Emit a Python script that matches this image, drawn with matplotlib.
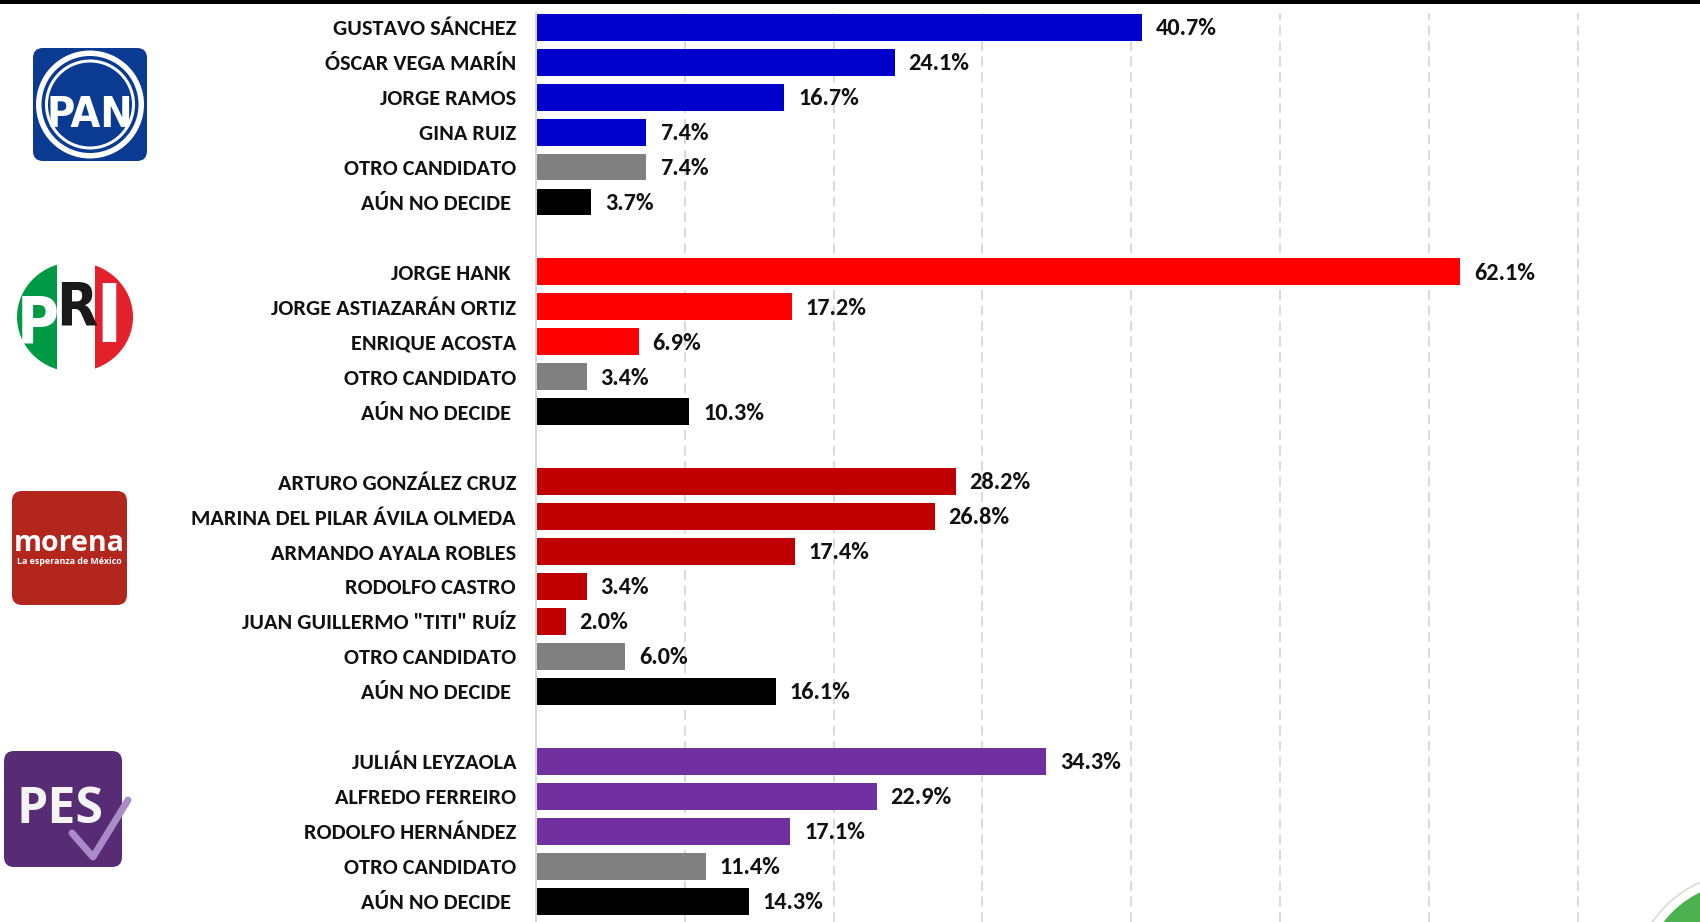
import matplotlib
matplotlib.use("Agg")
import matplotlib.pyplot as plt
from matplotlib import font_manager
from matplotlib.font_manager import FontProperties
from matplotlib.patches import FancyBboxPatch, Circle, Rectangle, Ellipse
from matplotlib.lines import Line2D

# ---------------- data ----------------
pan_names = ["GUSTAVO SÁNCHEZ", "ÓSCAR VEGA MARÍN", "JORGE RAMOS", "GINA RUIZ",
             "OTRO CANDIDATO", "AÚN NO DECIDE "]
pan_values = [40.7, 24.1, 16.7, 7.4, 7.4, 3.7]

pri_names = ["JORGE HANK ", "JORGE ASTIAZARÁN ORTIZ", "ENRIQUE ACOSTA",
             "OTRO CANDIDATO", "AÚN NO DECIDE "]
pri_values = [62.1, 17.2, 6.9, 3.4, 10.3]

morena_names = ["ARTURO GONZÁLEZ CRUZ", "MARINA DEL PILAR ÁVILA OLMEDA",
                "ARMANDO AYALA ROBLES", "RODOLFO CASTRO", 'JUAN GUILLERMO "TITI" RUÍZ',
                "OTRO CANDIDATO", "AÚN NO DECIDE "]
morena_values = [28.2, 26.8, 17.4, 3.4, 2.0, 6.0, 16.1]

pes_names = ["JULIÁN LEYZAOLA", "ALFREDO FERREIRO", "RODOLFO HERNÁNDEZ",
             "OTRO CANDIDATO", "AÚN NO DECIDE "]
pes_values = [34.3, 22.9, 17.1, 11.4, 14.3]

party_colors = {"PAN": "#0000CC", "PRI": "#FF0000", "MORENA": "#C00000", "PES": "#7030A0"}
other_color = "#808080"
undecided_color = "#000000"

# ---------------- fonts ----------------
avail = {f.name for f in font_manager.fontManager.ttflist}
def pick(*names):
    for n in names:
        if n in avail:
            return n
    return "DejaVu Sans"

LABEL_FONT = pick("Carlito", "Lato", "Open Sans")
LOGO_FONT = pick("Open Sans", "Lato")

def narrow_props(size):
    # look for a condensed / narrow bold face among installed fonts
    cands = []
    for f in font_manager.fontManager.ttflist:
        fn = f.fname.lower()
        if ("narrow" in fn or "condensed" in fn) and "bold" in fn and "italic" not in fn \
                and "oblique" not in fn:
            cands.append(f.fname)
    if cands:
        cands.sort(key=lambda s: (0 if "liberation" in s.lower() else 1, s))
        return FontProperties(fname=cands[0], size=size)
    return FontProperties(family=pick("Liberation Sans", "DejaVu Sans"),
                          weight="bold", size=size)

# ---------------- build rows ----------------
groups = [("PAN", pan_names, pan_values), ("PRI", pri_names, pri_values),
          ("MORENA", morena_names, morena_values), ("PES", pes_names, pes_values)]
rows, vals, cols, labels = [], [], [], []
r = 0
for gi, (party, names, values) in enumerate(groups):
    for n, v in zip(names, values):
        rows.append(r)
        vals.append(v)
        labels.append(n)
        if n.startswith("OTRO"):
            cols.append(other_color)
        elif n.startswith("AÚN"):
            cols.append(undecided_color)
        else:
            cols.append(party_colors[party])
        r += 1
    r += 1  # blank row between groups

W, H = 1700, 922
fig = plt.figure(figsize=(W / 100, H / 100), dpi=100)
fig.patch.set_facecolor("white")

# main axes (pixel geometry)
x0_px, top_px = 536, 13
row0_px, pitch_px = 27.2, 34.956
ax = fig.add_axes([x0_px / W, 0, 1 - x0_px / W, (H - top_px) / H])
px_per_pct = 14.88
ax.set_xlim(0, (W - x0_px) / px_per_pct)
ax.set_ylim((H - row0_px) / pitch_px, (top_px - row0_px) / pitch_px)

ax.barh(rows, vals, height=0.77, color=cols, zorder=3)

for y, v in zip(rows, vals):
    ax.annotate(f"{v:.1f}%", xy=(v, y), xytext=(10, 0.5), textcoords="offset points",
                ha="left", va="center_baseline", fontsize=17.5, fontweight="bold",
                family=LABEL_FONT, color="#111111", zorder=4)

ax.set_yticks(rows)
ax.set_yticklabels(labels, fontsize=16, fontweight="bold", family=LABEL_FONT, color="#111111")
for t in ax.get_yticklabels():
    t.set_verticalalignment("center_baseline")
ax.tick_params(axis="y", length=0, pad=14.4)
ax.set_xticks([10, 20, 30, 40, 50, 60, 70])
ax.tick_params(axis="x", length=0, labelbottom=False)
ax.grid(axis="x", color="#d9d9d9", linestyle=(0, (5, 3)), linewidth=1.4, zorder=0)
ax.set_axisbelow(True)
for s in ["top", "right", "bottom"]:
    ax.spines[s].set_visible(False)
ax.spines["left"].set_color("#d9d9d9")
ax.spines["left"].set_linewidth(1.5)
ax.spines["left"].set_zorder(5)

# top black rule
fig.patches.append(Rectangle((0, 1 - 4.5 / H), 1, 4.5 / H, transform=fig.transFigure,
                             facecolor="black", edgecolor="none"))

# ---------------- overlay for logos (pixel coordinates) ----------------
ov = fig.add_axes([0, 0, 1, 1])
ov.set_xlim(0, W)
ov.set_ylim(H, 0)
ov.axis("off")

# PAN logo
pan_blue = "#0B3A93"
ov.add_patch(FancyBboxPatch((33, 48), 114, 113, boxstyle="round,pad=0,rounding_size=10",
                            fc=pan_blue, ec="none"))
cx, cy = 90, 104.5
for rad, c in [(54, "white"), (48.5, pan_blue), (45, "white"), (42, pan_blue)]:
    ov.add_patch(Circle((cx, cy), rad, fc=c, ec="none"))
ov.text(cx, 127, "PAN", ha="center", va="baseline", color="white",
        fontproperties=narrow_props(31))

# PRI logo
pri_circle = Ellipse((75, 317), 116, 110, fc="white", ec="none")
ov.add_patch(pri_circle)
for x_a, x_b, c in [(17, 57, "#009A44"), (57, 95, "white"), (95, 134, "#E4202A")]:
    rect = Rectangle((x_a, 250), x_b - x_a, 140, fc=c, ec="none")
    ov.add_patch(rect)
    rect.set_clip_path(pri_circle)
ov.text(38, 342, "P", ha="center", va="baseline", color="white",
        fontproperties=narrow_props(46))
ov.text(77, 325, "R", ha="center", va="baseline", color="#1a1a1a",
        fontproperties=narrow_props(43))
ov.text(109, 342, "I", ha="center", va="baseline", color="white",
        fontproperties=narrow_props(58))

# MORENA logo
ov.add_patch(FancyBboxPatch((12, 491), 115, 114, boxstyle="round,pad=0,rounding_size=10",
                            fc="#B3261E", ec="none"))
ov.text(69.5, 551, "morena", ha="center", va="baseline", color="white", fontsize=20.5,
        fontweight="bold", family=LOGO_FONT)
ov.text(69.5, 564, "La esperanza de México", ha="center", va="baseline", color="white",
        fontsize=6.4, fontweight="bold", family=LOGO_FONT)

# PES logo
ov.add_patch(FancyBboxPatch((4, 751), 118, 116, boxstyle="round,pad=0,rounding_size=10",
                            fc="#582C74", ec="none"))
ov.text(60, 823, "PES", ha="center", va="baseline", color="#F4F4F4", fontsize=36,
        fontweight="bold", family=LOGO_FONT)
ov.add_line(Line2D([72, 93, 128], [833, 857, 800], color="#A98BC8", linewidth=5,
                   solid_capstyle="round", solid_joinstyle="round"))

# partial green badge at bottom right
ov.add_patch(Circle((1745, 985), 112, fc="white", ec="#d9d9d9", lw=1.2))
ov.add_patch(Circle((1745, 985), 103, fc="#4CAF50", ec="none"))

fig.savefig("out.png", dpi=100, facecolor="white")
